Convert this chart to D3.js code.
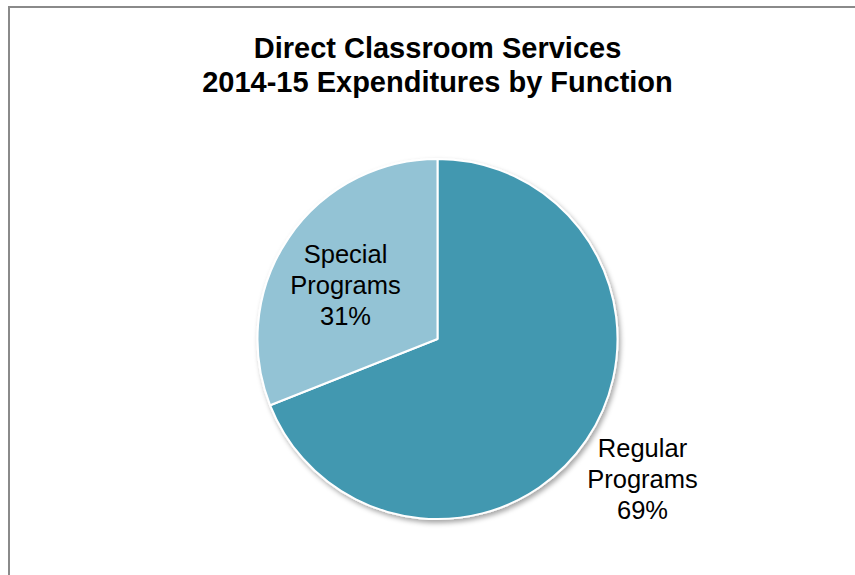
<!DOCTYPE html>
<html>
<head>
<meta charset="utf-8">
<script src="https://cdn.jsdelivr.net/npm/d3@7"></script>
<style>
  html, body { margin: 0; padding: 0; background: #fff; overflow: hidden; }
  svg { display: block; font-family: "Liberation Sans", Arial, sans-serif; }
</style>
</head>
<body>
<svg id="chart" width="855" height="575"></svg>
<script>
// Expenditure shares by function (percent)
const categories = ["Regular Programs", "Special Programs"];
const shares = [69, 31];
const labelLines = [["Regular", "Programs", "69%"], ["Special", "Programs", "31%"]];
const sliceColors = ["#4398b0", "#93c3d5"];
const titleLines = ["Direct Classroom Services", "2014-15 Expenditures by Function"];

const svg = d3.select("#chart");
const W = 855, H = 575;
const cx = 437.5, cy = 339, radius = 180;

// chart frame (runs past the right and bottom of the view)
svg.append("rect")
  .attr("x", 9).attr("y", 7)
  .attr("width", 1000).attr("height", 1000)
  .attr("fill", "#fff")
  .attr("stroke", "#8a8a8a")
  .attr("stroke-width", 2);

// title
svg.append("g").selectAll("text")
  .data(titleLines)
  .join("text")
  .attr("x", cx)
  .attr("y", (d, i) => 57.5 + i * 34)
  .attr("text-anchor", "middle")
  .attr("font-size", 29)
  .attr("font-weight", "bold")
  .attr("fill", "#000")
  .text(d => d);

// soft drop shadow under the pie
const defs = svg.append("defs");
const f = defs.append("filter").attr("id", "pieShadow")
  .attr("x", "-20%").attr("y", "-20%").attr("width", "140%").attr("height", "140%");
f.append("feDropShadow")
  .attr("dx", 2).attr("dy", 3)
  .attr("stdDeviation", 2.5)
  .attr("flood-color", "#000")
  .attr("flood-opacity", 0.35);

const data = categories.map((c, i) => ({ name: c, value: shares[i], lines: labelLines[i], color: sliceColors[i] }));
const pie = d3.pie().value(d => d.value).sort(null);
const arc = d3.arc().innerRadius(0).outerRadius(radius);
const arcs = pie(data);

const g = svg.append("g").attr("transform", `translate(${cx},${cy})`);
g.append("g").attr("filter", "url(#pieShadow)")
  .selectAll("path")
  .data(arcs)
  .join("path")
  .attr("d", arc)
  .attr("fill", d => d.data.color)
  .attr("stroke", "#fff")
  .attr("stroke-width", 2)
  .attr("stroke-linejoin", "round");

// data labels: Regular sits outside the pie, Special inside its slice
const labelPos = [
  [205, 118],   // Regular Programs (relative to pie centre)
  [-92, -76]    // Special Programs
];
const lbl = g.append("g").selectAll("text")
  .data(arcs)
  .join("text")
  .attr("text-anchor", "middle")
  .attr("font-size", 25.5)
  .attr("fill", "#000")
  .attr("transform", (d, i) => `translate(${labelPos[i][0]},${labelPos[i][1]})`);
lbl.selectAll("tspan")
  .data(d => d.data.lines)
  .join("tspan")
  .attr("x", 0)
  .attr("y", (d, i) => i * 31)
  .text(d => d);
</script>
</body>
</html>
